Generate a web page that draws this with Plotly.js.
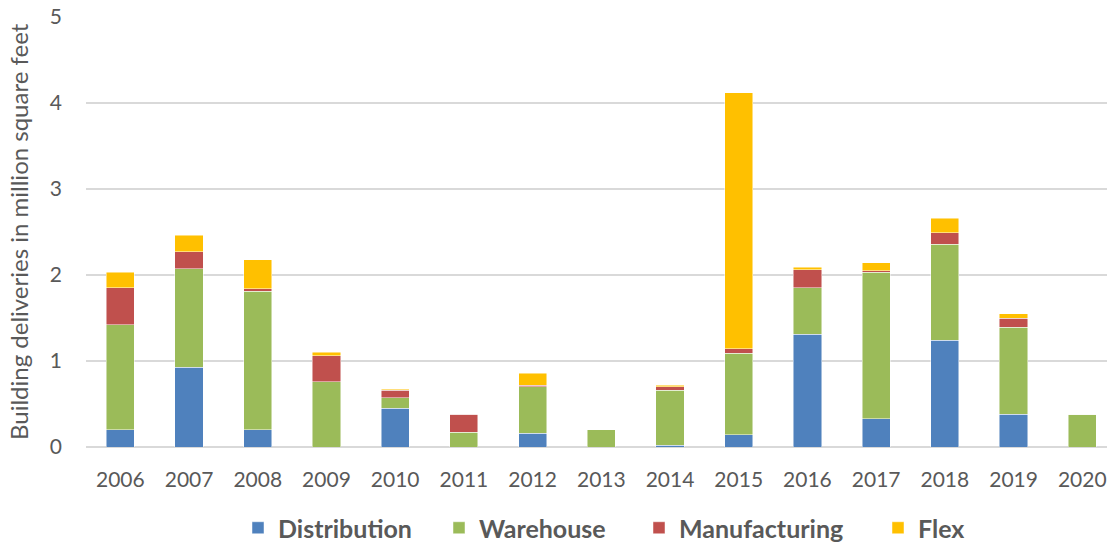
<!DOCTYPE html>
<html>
<head>
<meta charset="utf-8">
<script src="https://cdn.plot.ly/plotly-3.0.1.min.js"></script>
<style>html,body{margin:0;padding:0;background:#fff;}#chart{width:1107px;height:544px;}</style>
</head>
<body>
<div id="chart"></div>
<script>
const years = ['2006','2007','2008','2009','2010','2011','2012','2013','2014','2015','2016','2017','2018','2019','2020'];
const distribution  = [0.20, 0.93, 0.20, 0.00, 0.45, 0.00, 0.16, 0.00, 0.02, 0.14, 1.31, 0.33, 1.24, 0.38, 0.00];
const warehouse     = [1.22, 1.14, 1.61, 0.76, 0.12, 0.17, 0.54, 0.20, 0.64, 0.95, 0.54, 1.70, 1.12, 1.01, 0.38];
const manufacturing = [0.43, 0.20, 0.03, 0.30, 0.09, 0.21, 0.02, 0.00, 0.04, 0.05, 0.21, 0.02, 0.13, 0.11, 0.00];
const flex          = [0.18, 0.19, 0.34, 0.04, 0.01, 0.00, 0.14, 0.00, 0.02, 2.98, 0.03, 0.09, 0.17, 0.05, 0.00];

const seriesNames = ['Distribution','Warehouse','Manufacturing','Flex'];
const seriesColors = ['#4F81BD','#9BBB59','#C0504D','#FFC000'];
const seriesValues = [distribution, warehouse, manufacturing, flex];
const legendIds = ['legend','legend2','legend3','legend4'];
const legendLeftPx = [238, 439, 639, 878];

const traces = seriesNames.map((name, i) => ({
  type: 'bar',
  name: name,
  x: years,
  y: seriesValues[i],
  legend: legendIds[i],
  marker: {color: seriesColors[i], line: {color: 'rgba(255,255,255,0.6)', width: 0.8}},
  hoverinfo: 'x+y+name'
}));

const W = 1107, H = 544;

const layout = {
  width: W,
  height: H,
  barmode: 'stack',
  bargap: 0.59,
  paper_bgcolor: '#ffffff',
  plot_bgcolor: '#ffffff',
  margin: {l: 86, r: 0, t: 17, b: 97, pad: 0},
  font: {family: 'Lato, "Liberation Sans", sans-serif', color: '#595959', size: 21},
  xaxis: {
    type: 'category',
    range: [-0.5, 14.36],
    showgrid: false,
    showline: false,
    zeroline: false,
    ticks: '',
    tickfont: {size: 21, color: '#595959'},
    ticklabelstandoff: 18
  },
  yaxis: {
    range: [0, 5],
    tickvals: [0,1,2,3,4,5],
    showgrid: true,
    gridcolor: '#D9D9D9',
    gridwidth: 1.5,
    zeroline: true,
    zerolinecolor: '#D9D9D9',
    zerolinewidth: 1.5,
    showline: false,
    ticks: '',
    tickfont: {size: 21, color: '#595959'},
    ticklabelstandoff: 23
  },
  annotations: [{
    text: 'Building deliveries in million square feet',
    textangle: -90,
    xref: 'paper', yref: 'paper',
    x: (18 - 86) / (W - 86), y: 0.5,
    xanchor: 'center', yanchor: 'middle',
    showarrow: false,
    font: {size: 24, color: '#595959'}
  }],
  showlegend: true
};

legendIds.forEach((id, i) => {
  layout[id] = {
    orientation: 'h',
    x: legendLeftPx[i] / W, xanchor: 'left', xref: 'container',
    y: 1 - 528 / H, yanchor: 'middle', yref: 'container',
    font: {size: 25, color: '#595959', family: 'Lato, "Liberation Sans", sans-serif', weight: 'bold'},
    itemwidth: 30,
    bgcolor: 'rgba(0,0,0,0)'
  };
});

Plotly.newPlot('chart', traces, layout, {displayModeBar: false, staticPlot: true});
</script>
</body>
</html>
